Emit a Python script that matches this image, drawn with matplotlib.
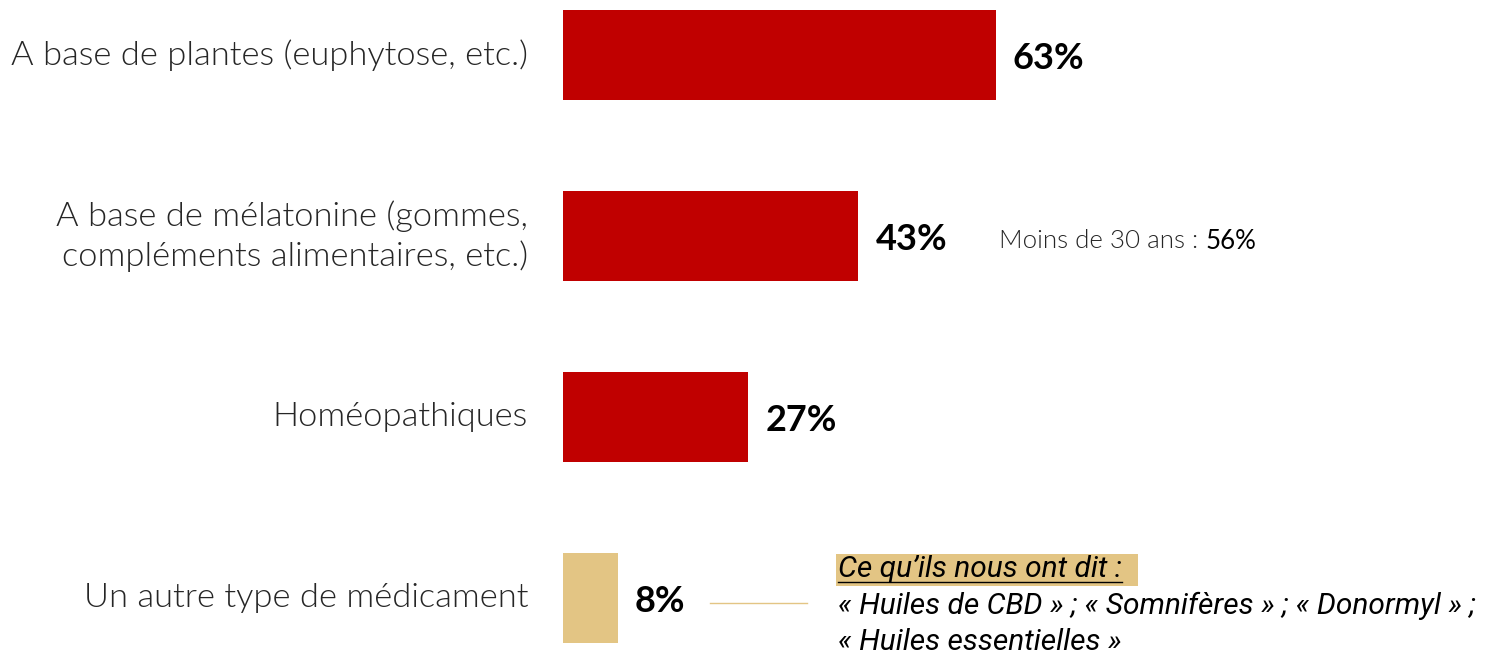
import matplotlib
matplotlib.use("Agg")
import matplotlib.pyplot as plt
from matplotlib.patches import Rectangle

categories = [
    "A base de plantes (euphytose, etc.)",
    "A base de mélatonine (gommes,\ncompléments alimentaires, etc.)",
    "Homéopathiques",
    "Un autre type de médicament",
]
values = [63, 43, 27, 8]
value_labels = ["63%", "43%", "27%", "8%"]
bar_colors = ["#C00000", "#C00000", "#C00000", "#E3C584"]

sub_note = "Moins de 30 ans : "
sub_value = "56%"
verbatim_title = "Ce qu\u2019ils nous ont dit :"
verbatim_lines = ["\u00ab Huiles de CBD \u00bb ; \u00ab Somnif\u00e8res \u00bb ; \u00ab Donormyl \u00bb ;",
                  "\u00ab Huiles essentielles \u00bb"]

W, H = 1493, 654
fig = plt.figure(figsize=(W / 100, H / 100), dpi=100)
px_per_pct = 6.87
x0 = 563
ax = fig.add_axes([x0 / W, 0, 1 - x0 / W, 1])
ax.set_xlim(0, (W - x0) / px_per_pct)
ax.set_ylim((H - 55) / 181, -55 / 181)
ax.axis("off")

ypos = list(range(len(categories)))
ax.barh(ypos, values, height=90 / 181, color=bar_colors)

light = dict(family="Lato", weight=300, color="#262626")
for y, cat, v, lab in zip(ypos, categories, values, value_labels):
    ax.text(-35 / px_per_pct, y, cat, ha="right", va="center", fontsize=24.8,
            linespacing=1.35, **light)
    ax.text(v + 17 / px_per_pct, y + 0.02, lab, ha="left", va="center", fontsize=26,
            family="Lato", weight="bold", color="black")

# note beside the melatonin bar
t = ax.text((999 - x0) / px_per_pct, 1.03, sub_note, fontsize=18.6,
            ha="left", va="center", **light)
fig.canvas.draw()
r = fig.canvas.get_renderer()
bb = t.get_window_extent(r)
xe = ax.transData.inverted().transform((bb.x1, bb.y0))[0]
ax.text(xe, 1.03, sub_value, ha="left", va="center", fontsize=18.6,
        family="Lato", color="black")

# connector line for the last bar
ax.plot([(710 - x0) / px_per_pct, (807 - x0) / px_per_pct], [3.03, 3.03],
        color="#E3C584", lw=1)

# verbatim box
vx = (838 - x0) / px_per_pct
it = dict(family="Roboto", style="italic", color="black", fontsize=21.5)
tt = ax.text(vx, (569 - 55) / 181, verbatim_title, ha="left", va="center",
             zorder=4, **it)
fig.canvas.draw()
bb = tt.get_window_extent(r)
inv = ax.transData.inverted()
(bx0, by0), (bx1, by1) = inv.transform([(bb.x0 - 2, bb.y0 - 3), (bb.x1 + 16, bb.y1 + 1)])
ax.add_patch(Rectangle((bx0, by0), bx1 - bx0, by1 - by0, facecolor="#E3C584",
                       edgecolor="none", zorder=3))
(ux0, uy), (ux1, _) = inv.transform([(bb.x0, bb.y0 + 1), (bb.x1, bb.y0 + 1)])
ax.plot([ux0, ux1], [uy, uy], color="black", lw=1, zorder=5)
for i, line in enumerate(verbatim_lines):
    ax.text(vx, (606 + 36 * i - 55) / 181, line, ha="left", va="center", **it)

fig.savefig("out.png", dpi=100)
